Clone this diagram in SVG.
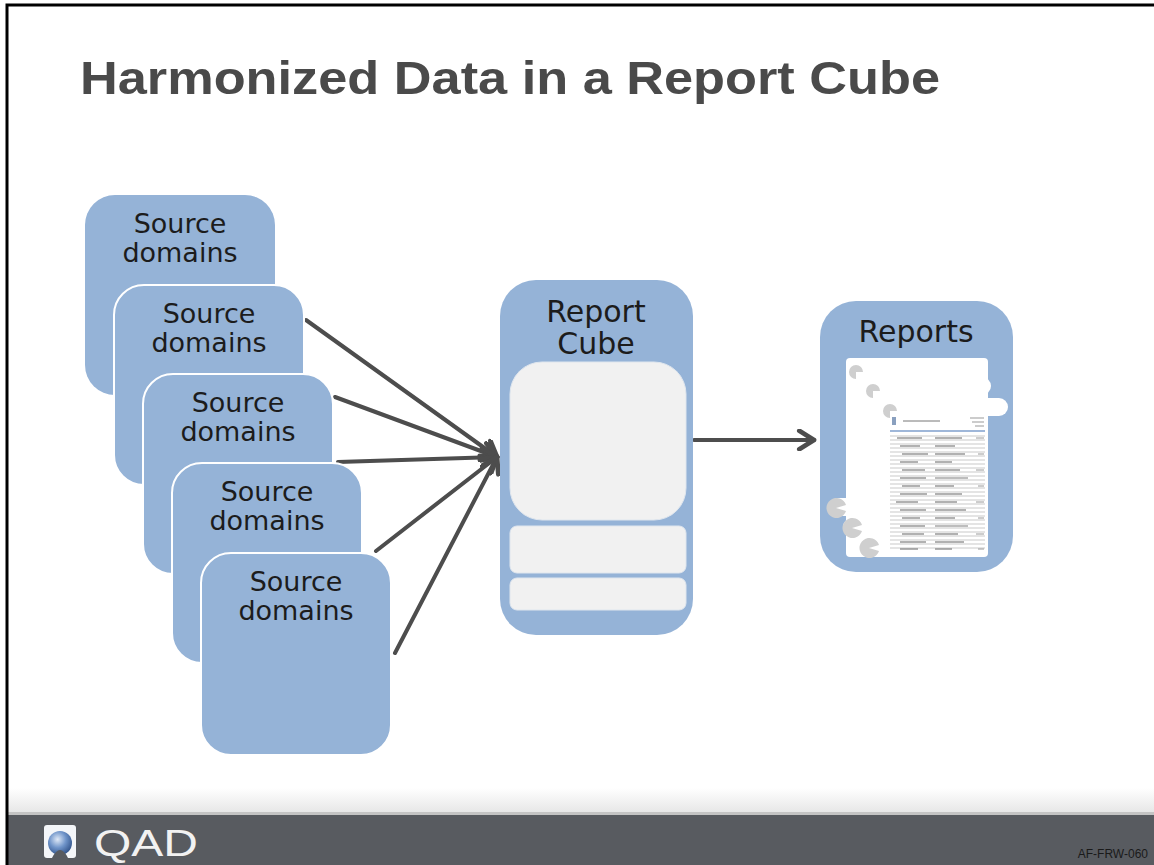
<svg xmlns="http://www.w3.org/2000/svg" width="1154" height="865" viewBox="0 0 1154 865">
  <style>
    .box { fill: #95b3d7; }
    .stack { fill: #95b3d7; stroke: #ffffff; stroke-width: 2; }
    .lbl { font-family: "DejaVu Sans", "Liberation Sans", sans-serif; fill: #1c1c1c; text-anchor: middle; }
    .src { font-size: 27px; }
    .big { font-size: 30px; }
    .panel { fill: #f1f1f1; stroke: #dfe6ee; stroke-width: 1; }
    .wire { stroke: #4d4d4d; stroke-width: 4; fill: none; stroke-linecap: round; }
    .pie { fill: #cfcfcf; }
    .row { stroke: #c9c9c9; stroke-width: 1; }
  </style>
  <defs>
    <marker id="chev" viewBox="0 0 12 12" refX="10" refY="6" markerWidth="5.5" markerHeight="5.5" markerUnits="strokeWidth" orient="auto">
      <path d="M2,1 L10,6 L2,11" fill="none" stroke="#4d4d4d" stroke-width="2.6" stroke-linecap="round" stroke-linejoin="round"/>
    </marker>
    <linearGradient id="fade" x1="0" y1="0" x2="0" y2="1">
      <stop offset="0" stop-color="#ffffff"/>
      <stop offset="1" stop-color="#e6e6e6"/>
    </linearGradient>
    <radialGradient id="globe" cx="0.4" cy="0.35" r="0.7">
      <stop offset="0" stop-color="#dfe9f7"/>
      <stop offset="0.5" stop-color="#6f94c9"/>
      <stop offset="1" stop-color="#2d4f86"/>
    </radialGradient>
  </defs>

  <rect width="1154" height="865" fill="#ffffff"/>

  <!-- title -->
  <text x="80" y="94" font-family="Liberation Sans, Arial, sans-serif" font-weight="bold" font-size="46" fill="#4a4a4a" textLength="860" lengthAdjust="spacingAndGlyphs">Harmonized Data in a Report Cube</text>

  <!-- connectors -->
  <g id="connectors">
    <line class="wire" x1="306" y1="320" x2="497" y2="457" marker-end="url(#chev)"/>
    <line class="wire" x1="335" y1="397" x2="497" y2="457" marker-end="url(#chev)"/>
    <line class="wire" x1="338" y1="462" x2="497" y2="457" marker-end="url(#chev)"/>
    <line class="wire" x1="376" y1="551" x2="497" y2="457" marker-end="url(#chev)"/>
    <line class="wire" x1="395" y1="653" x2="497" y2="457" marker-end="url(#chev)"/>
    <line class="wire" x1="694" y1="440" x2="814" y2="440" marker-end="url(#chev)"/>
  </g>

  <!-- source domain stack -->
  <g id="source1">
    <rect class="box" x="85" y="195" width="190" height="200" rx="30"/>
    <text class="lbl src" x="180" y="233">Source</text>
    <text class="lbl src" x="180" y="262">domains</text>
  </g>
  <g id="source2">
    <rect class="stack" x="114" y="285" width="190" height="200" rx="30"/>
    <text class="lbl src" x="209" y="323">Source</text>
    <text class="lbl src" x="209" y="352">domains</text>
  </g>
  <g id="source3">
    <rect class="stack" x="143" y="374" width="190" height="200" rx="30"/>
    <text class="lbl src" x="238" y="412">Source</text>
    <text class="lbl src" x="238" y="441">domains</text>
  </g>
  <g id="source4">
    <rect class="stack" x="172" y="463" width="190" height="200" rx="30"/>
    <text class="lbl src" x="267" y="501">Source</text>
    <text class="lbl src" x="267" y="530">domains</text>
  </g>
  <g id="source5">
    <rect class="stack" x="201" y="553" width="190" height="202" rx="30"/>
    <text class="lbl src" x="296" y="591">Source</text>
    <text class="lbl src" x="296" y="620">domains</text>
  </g>

  <!-- report cube -->
  <g id="report-cube">
    <rect class="box" x="500" y="280" width="193" height="355" rx="36"/>
    <text class="lbl big" x="596" y="322">Report</text>
    <text class="lbl big" x="596" y="354">Cube</text>
    <rect class="panel" x="510" y="362" width="176" height="158" rx="32"/>
    <rect class="panel" x="510" y="526" width="176" height="47" rx="7"/>
    <rect class="panel" x="510" y="578" width="176" height="32" rx="7"/>
  </g>

  <!-- reports -->
  <g id="reports">
    <rect class="box" x="820" y="301" width="193" height="271" rx="36"/>
    <text class="lbl big" x="916" y="342">Reports</text>
    <!-- paper sheets -->
    <g fill="#ffffff">
      <rect x="846" y="358" width="142" height="199" rx="4"/>
      <rect x="846" y="358" width="130" height="17" rx="8"/>
      <rect x="860" y="377" width="131" height="18" rx="9"/>
      <rect x="880" y="398" width="128" height="18" rx="9"/>
      <rect x="830" y="498" width="60" height="18" rx="9"/>
      <rect x="843" y="518" width="50" height="18" rx="9"/>
      <rect x="860" y="538" width="40" height="18" rx="9"/>
    </g>
    <!-- sheet corners -->
    <path class="pie" d="M856,372 L856,365 A7,7 0 1 1 849,372 Z" transform="rotate(180 856 372)"/>
    <path class="pie" d="M873,391 L873,384 A7,7 0 1 1 866,391 Z" transform="rotate(180 873 391)"/>
    <path class="pie" d="M890,411 L890,404 A7,7 0 1 1 883,411 Z" transform="rotate(180 890 411)"/>
    <path class="pie" d="M836,508 m10,3 A10,10 0 1 1 846,505 L836,508 Z"/>
    <path class="pie" d="M852,528 m10,3 A10,10 0 1 1 862,525 L852,528 Z"/>
    <path class="pie" d="M869,548 m10,3 A10,10 0 1 1 879,545 L869,548 Z"/>
    <!-- miniature report page -->
    <g id="report-page">
      <rect x="892" y="417" width="4" height="8" fill="#8aa0bf"/>
      <line x1="903" y1="421" x2="940" y2="421" stroke="#777" stroke-width="1"/>
      <line x1="970" y1="418" x2="984" y2="418" stroke="#999" stroke-width="1"/>
      <line x1="972" y1="422" x2="984" y2="422" stroke="#999" stroke-width="1"/>
      <line x1="975" y1="426" x2="984" y2="426" stroke="#999" stroke-width="1"/>
      <line x1="890" y1="431" x2="985" y2="431" stroke="#9fb7d9" stroke-width="2"/>
      <g class="row">
        <line x1="890" y1="436" x2="985" y2="436"/>
        <line x1="890" y1="440" x2="985" y2="440"/>
        <line x1="890" y1="444" x2="985" y2="444"/>
        <line x1="890" y1="448" x2="985" y2="448"/>
        <line x1="890" y1="452" x2="985" y2="452"/>
        <line x1="890" y1="456" x2="985" y2="456"/>
        <line x1="890" y1="460" x2="985" y2="460"/>
        <line x1="890" y1="464" x2="985" y2="464"/>
        <line x1="890" y1="468" x2="985" y2="468"/>
        <line x1="890" y1="472" x2="985" y2="472"/>
        <line x1="890" y1="476" x2="985" y2="476"/>
        <line x1="890" y1="480" x2="985" y2="480"/>
        <line x1="890" y1="484" x2="985" y2="484"/>
        <line x1="890" y1="488" x2="985" y2="488"/>
        <line x1="890" y1="492" x2="985" y2="492"/>
        <line x1="890" y1="496" x2="985" y2="496"/>
        <line x1="890" y1="500" x2="985" y2="500"/>
        <line x1="890" y1="504" x2="985" y2="504"/>
        <line x1="890" y1="508" x2="985" y2="508"/>
        <line x1="890" y1="512" x2="985" y2="512"/>
        <line x1="890" y1="516" x2="985" y2="516"/>
        <line x1="890" y1="520" x2="985" y2="520"/>
        <line x1="890" y1="524" x2="985" y2="524"/>
        <line x1="890" y1="528" x2="985" y2="528"/>
        <line x1="890" y1="532" x2="985" y2="532"/>
        <line x1="890" y1="536" x2="985" y2="536"/>
        <line x1="890" y1="540" x2="985" y2="540"/>
        <line x1="890" y1="544" x2="985" y2="544"/>
        <line x1="890" y1="548" x2="985" y2="548"/>
      </g>
      <g stroke="#7d7d7d" stroke-width="1.2">
        <line x1="897" y1="438" x2="922" y2="438"/><line x1="935" y1="438" x2="962" y2="438"/>
        <line x1="900" y1="446" x2="920" y2="446"/><line x1="935" y1="446" x2="955" y2="446"/>
        <line x1="902" y1="454" x2="928" y2="454"/><line x1="935" y1="454" x2="965" y2="454"/>
        <line x1="900" y1="462" x2="918" y2="462"/><line x1="935" y1="462" x2="952" y2="462"/>
        <line x1="902" y1="470" x2="925" y2="470"/><line x1="935" y1="470" x2="960" y2="470"/>
        <line x1="900" y1="478" x2="926" y2="478"/><line x1="935" y1="478" x2="968" y2="478"/>
        <line x1="902" y1="486" x2="920" y2="486"/><line x1="935" y1="486" x2="954" y2="486"/>
        <line x1="900" y1="494" x2="927" y2="494"/><line x1="935" y1="494" x2="962" y2="494"/>
        <line x1="896" y1="502" x2="918" y2="502"/><line x1="935" y1="502" x2="957" y2="502"/>
        <line x1="900" y1="510" x2="926" y2="510"/><line x1="935" y1="510" x2="966" y2="510"/>
        <line x1="902" y1="518" x2="920" y2="518"/><line x1="935" y1="518" x2="955" y2="518"/>
        <line x1="900" y1="526" x2="925" y2="526"/><line x1="935" y1="526" x2="968" y2="526"/>
        <line x1="902" y1="534" x2="924" y2="534"/><line x1="935" y1="534" x2="958" y2="534"/>
        <line x1="900" y1="542" x2="926" y2="542"/><line x1="935" y1="542" x2="964" y2="542"/>
        <line x1="900" y1="549" x2="918" y2="549"/><line x1="935" y1="549" x2="952" y2="549"/>
      </g>
      <g stroke="#9a9a9a" stroke-width="1">
        <line x1="976" y1="438" x2="984" y2="438"/><line x1="978" y1="454" x2="984" y2="454"/>
        <line x1="976" y1="470" x2="984" y2="470"/><line x1="978" y1="486" x2="984" y2="486"/>
        <line x1="976" y1="502" x2="984" y2="502"/><line x1="978" y1="518" x2="984" y2="518"/>
        <line x1="976" y1="534" x2="984" y2="534"/><line x1="978" y1="549" x2="984" y2="549"/>
      </g>
    </g>
  </g>

  <!-- footer band -->
  <g id="footer">
    <rect x="8" y="788" width="1146" height="25" fill="url(#fade)"/>
    <rect x="8" y="812" width="1146" height="3" fill="#c4c4c4"/>
    <rect x="8" y="815" width="1146" height="50" fill="#585b60"/>
    <rect x="44" y="825" width="32" height="33" rx="3" fill="#f4f6f9"/>
    <circle cx="60" cy="843" r="12" fill="url(#globe)"/>
    <path d="M44,858 L52,858 Q60,842 68,858 L76,858 L76,862 L44,862 Z" fill="#585b60"/>
    <text x="94" y="856" font-family="Liberation Sans, Arial, sans-serif" font-size="37" fill="#f2f2f2" textLength="104" lengthAdjust="spacingAndGlyphs">QAD</text>
    <text x="1148" y="858" font-family="Liberation Sans, Arial, sans-serif" font-size="12" fill="#1a1a1a" text-anchor="end">AF-FRW-060</text>
  </g>

  <!-- page frame -->
  <path d="M7,865 V5 H1154" fill="none" stroke="#000000" stroke-width="3"/>
</svg>
